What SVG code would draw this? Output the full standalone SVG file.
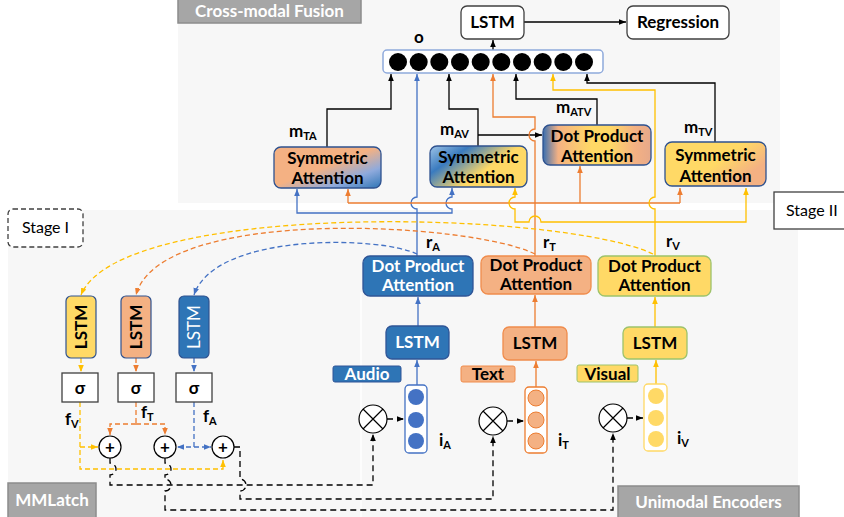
<svg xmlns="http://www.w3.org/2000/svg" width="844" height="517" viewBox="0 0 844 517">
<defs>
<style>
text{font-family:Lato,"Open Sans","Liberation Sans",sans-serif;}
.t{font-size:17px;font-weight:bold;text-anchor:middle;}
.w{fill:#fff;}
.c{fill:none;stroke-width:1.3;}
.k{stroke:#000;}
.bl{stroke:#4472c4;}
.or{stroke:#ed7d31;}
.ye{stroke:#ffc000;}
.d{stroke-dasharray:6 4;}
.dc{stroke-dasharray:5 3;}
.lab{font-size:17px;font-weight:bold;}
.sub{font-size:11px;}
.tag{fill:#a6a6a6;stroke:#8c8c8c;stroke-width:1.5;}
.tagt{font-size:17px;font-weight:bold;fill:#fff;text-anchor:middle;}
.wbox{fill:#fff;stroke:#404040;stroke-width:1.3;}
.grad{stroke:#2f528f;stroke-width:1.3;}
</style>
<marker id="ak" viewBox="0 0 10 10" refX="10" refY="5" markerWidth="7" markerHeight="7" markerUnits="userSpaceOnUse" orient="auto"><path d="M0,1 L10,5 L0,9z" fill="#000"/></marker>
<marker id="ab" viewBox="0 0 10 10" refX="10" refY="5" markerWidth="7" markerHeight="7" markerUnits="userSpaceOnUse" orient="auto"><path d="M0,1 L10,5 L0,9z" fill="#4472c4"/></marker>
<marker id="ao" viewBox="0 0 10 10" refX="10" refY="5" markerWidth="7" markerHeight="7" markerUnits="userSpaceOnUse" orient="auto"><path d="M0,1 L10,5 L0,9z" fill="#ed7d31"/></marker>
<marker id="ay" viewBox="0 0 10 10" refX="10" refY="5" markerWidth="7" markerHeight="7" markerUnits="userSpaceOnUse" orient="auto"><path d="M0,1 L10,5 L0,9z" fill="#ffc000"/></marker>
<linearGradient id="gTA" x1="0" y1="0" x2="1" y2="1">
<stop offset="0" stop-color="#f4b183"/><stop offset="0.48" stop-color="#f4b183"/><stop offset="0.75" stop-color="#8faadc"/><stop offset="1" stop-color="#2e75b6"/>
</linearGradient>
<linearGradient id="gAV" x1="0" y1="0" x2="1" y2="0.6">
<stop offset="0" stop-color="#9dc3e6"/><stop offset="0.3" stop-color="#3a7bbf"/><stop offset="0.68" stop-color="#ffd966"/><stop offset="1" stop-color="#ffd966"/>
</linearGradient>
<linearGradient id="gATV" x1="0" y1="0" x2="1" y2="0">
<stop offset="0" stop-color="#3a6fb0"/><stop offset="0.14" stop-color="#f4b183"/><stop offset="0.45" stop-color="#ffd966"/><stop offset="0.62" stop-color="#ffd966"/><stop offset="0.85" stop-color="#f4b183"/><stop offset="1" stop-color="#e6a98a"/>
</linearGradient>
<linearGradient id="gTV" x1="0" y1="0.2" x2="1" y2="0.8">
<stop offset="0" stop-color="#ffd966"/><stop offset="0.5" stop-color="#ffd966"/><stop offset="0.85" stop-color="#f4b183"/><stop offset="1" stop-color="#f4b183"/>
</linearGradient>
</defs>

<!-- panels -->
<rect width="844" height="517" fill="#fff"/>
<rect x="178" y="0" width="602" height="203" fill="#f7f7f7"/>
<rect x="8" y="210" width="790" height="307" fill="#f7f7f7"/>
<line x1="361" y1="292" x2="361" y2="517" stroke="#fff" stroke-width="1.5"/>

<g id="tag-fusion"><rect class="tag" x="178" y="-1" width="183" height="24"/><text class="tagt" x="269.5" y="17">Cross-modal Fusion</text></g>
<g id="tag-mmlatch"><rect class="tag" x="8" y="483" width="88" height="36"/><text class="tagt" x="52" y="506">MMLatch</text></g>
<g id="tag-encoders"><rect class="tag" x="618" y="486" width="181" height="33"/><text class="tagt" x="708.5" y="508">Unimodal Encoders</text></g>
<g id="stage1"><rect x="8" y="209" width="75" height="38" rx="5" fill="#fff" stroke="#404040" stroke-width="1.3" stroke-dasharray="5 3"/><text x="45.5" y="233" font-size="16" text-anchor="middle">Stage I</text></g>
<g id="stage2"><rect x="774" y="192" width="80" height="37" fill="#fff" stroke="#404040" stroke-width="1.3"/><text x="786" y="216" font-size="16">Stage II</text></g>

<!-- connectors -->
<g id="connectors">
<!-- fusion head -->
<path class="c k" d="M493,50 V40" marker-end="url(#ak)"/>
<path class="c k" d="M524,22 H626" marker-end="url(#ak)"/>
<path class="c k" d="M327,147 V109 H391 V74" marker-end="url(#ak)"/>
<path class="c k" d="M478,146 V109 H449 V74" marker-end="url(#ak)"/>
<path class="c k" d="M478,135 H542" marker-end="url(#ak)"/>
<path class="c k" d="M597,125 V99 H516 V74" marker-end="url(#ak)"/>
<path class="c k" d="M715,142 V83 H587 V74" marker-end="url(#ak)"/>
<!-- audio representation -->
<path class="c bl" d="M417,256 V209 A6,6 0 0 1 417,197 V74" marker-end="url(#ab)"/>
<path class="c bl" d="M417,213 H297 V189" marker-end="url(#ab)"/>
<path class="c bl" d="M417,213 H452 V209 A6,6 0 0 1 452,197 V188" marker-end="url(#ab)"/>
<!-- text representation -->
<path class="c or" d="M535,256 V141 A6,6 0 0 1 535,129 V117 H493 V74" marker-end="url(#ao)"/>
<path class="c or" d="M348,203 H680"/>
<path class="c or" d="M348,203 V189" marker-end="url(#ao)"/>
<path class="c or" d="M580,203 V166" marker-end="url(#ao)"/>
<path class="c or" d="M680,203 V188" marker-end="url(#ao)"/>
<!-- visual representation -->
<path class="c ye" d="M655,256 V209 A6,6 0 0 1 655,197 V90 H553 V74" marker-end="url(#ay)"/>
<path class="c ye" d="M655,222 H746 V188" marker-end="url(#ay)"/>
<path class="c ye" d="M655,222 H541 A6,6 0 0 0 529,222 H515 V209 A6,6 0 0 1 515,197 V188" marker-end="url(#ay)"/>
<!-- encoders -->
<path class="c bl" d="M417,385 V360" marker-end="url(#ab)"/>
<path class="c bl" d="M418,326 V297" marker-end="url(#ab)"/>
<path class="c or" d="M536,387 V361" marker-end="url(#ao)"/>
<path class="c or" d="M535,327 V295" marker-end="url(#ao)"/>
<path class="c ye" d="M656,384 V360" marker-end="url(#ay)"/>
<path class="c ye" d="M655,327 V297" marker-end="url(#ay)"/>
<!-- feedback to stage I -->
<path class="c ye dc" d="M653,254 C560,210 120,200 81,295" marker-end="url(#ay)"/>
<path class="c or dc" d="M535,254 C470,222 160,205 136,295" marker-end="url(#ao)"/>
<path class="c bl dc" d="M417,254 C380,236 215,232 194,295" marker-end="url(#ab)"/>
<path class="c ye dc" d="M81,358 V372" marker-end="url(#ay)"/>
<path class="c or dc" d="M136,358 V372" marker-end="url(#ao)"/>
<path class="c bl dc" d="M194,358 V372" marker-end="url(#ab)"/>
<!-- gates -->
<path class="c ye dc" d="M80,402 V469 H223 V460" marker-end="url(#ay)"/>
<path class="c ye dc" d="M80,447 H98" marker-end="url(#ay)"/>
<path class="c or dc" d="M136,402 V424"/>
<path class="c or dc" d="M136,424 H110 V435" marker-end="url(#ao)"/>
<path class="c or dc" d="M136,424 H165 V435" marker-end="url(#ao)"/>
<path class="c bl dc" d="M194,402 V447 H177" marker-end="url(#ab)"/>
<path class="c bl dc" d="M194,447 H211" marker-end="url(#ab)"/>
<!-- masks to inputs -->
<path class="c k d" d="M110,458 V463 A6,6 0 0 1 110,475 V485 H373 V434" marker-end="url(#ak)"/>
<path class="c k d" d="M165,458 V463 A6,6 0 0 1 165,475 V479 A6,6 0 0 1 165,491 V510 H613 V433" marker-end="url(#ak)"/>
<path class="c k d" d="M234,447 H240 V479 A6,6 0 0 1 240,491 V499 H493 V436" marker-end="url(#ak)"/>
<path class="c k d" d="M387,419 H404" marker-end="url(#ak)"/>
<path class="c k d" d="M507,421 H524" marker-end="url(#ak)"/>
<path class="c k d" d="M627,418 H643" marker-end="url(#ak)"/>
</g>

<!-- fusion nodes -->
<g id="lstm-fusion"><rect class="wbox" x="461" y="6" width="63" height="33" rx="6"/><text class="t" x="492.5" y="28">LSTM</text></g>
<g id="regression"><rect class="wbox" x="627" y="6" width="102" height="33" rx="6"/><text class="t" x="678" y="28">Regression</text></g>
<g id="vec-o">
<rect x="383" y="50" width="220" height="23" rx="4" fill="#fff" stroke="#8faadc" stroke-width="1.5"/>
<g fill="#000">
<circle cx="398" cy="62" r="9"/><circle cx="418.7" cy="62" r="9"/><circle cx="439.3" cy="62" r="9"/><circle cx="460" cy="62" r="9"/><circle cx="480.7" cy="62" r="9"/><circle cx="501.3" cy="62" r="9"/><circle cx="522" cy="62" r="9"/><circle cx="542.7" cy="62" r="9"/><circle cx="563.3" cy="62" r="9"/><circle cx="584" cy="62" r="9"/>
</g>
<text class="t" x="419" y="43">o</text>
</g>
<g id="sym-ta"><rect class="grad" x="274" y="147" width="107" height="41" rx="7" fill="url(#gTA)"/><text class="t" x="327.5" y="164">Symmetric</text><text class="t" x="327.5" y="184">Attention</text>
<text class="lab" x="289" y="137">m<tspan class="sub" dy="3">TA</tspan></text></g>
<g id="sym-av"><rect class="grad" x="430" y="146" width="97" height="41" rx="7" fill="url(#gAV)"/><text class="t" x="478.5" y="163">Symmetric</text><text class="t" x="478.5" y="183">Attention</text>
<text class="lab" x="440" y="135">m<tspan class="sub" dy="3">AV</tspan></text></g>
<g id="dot-atv"><rect class="grad" x="543" y="125" width="108" height="40" rx="7" fill="url(#gATV)"/><text class="t" x="597" y="142">Dot Product</text><text class="t" x="597" y="162">Attention</text>
<text class="lab" x="556" y="113">m<tspan class="sub" dy="3">ATV</tspan></text></g>
<g id="sym-tv"><rect class="grad" x="665" y="142" width="101" height="44" rx="7" fill="url(#gTV)"/><text class="t" x="715.5" y="161">Symmetric</text><text class="t" x="715.5" y="182">Attention</text>
<text class="lab" x="684" y="133">m<tspan class="sub" dy="3">TV</tspan></text></g>

<!-- unimodal encoders -->
<g id="dot-a"><rect x="363" y="256" width="110" height="40" rx="7" fill="#2e75b6" stroke="#2f5597" stroke-width="1.3"/><text class="t w" x="418" y="272">Dot Product</text><text class="t w" x="418" y="291">Attention</text>
<text class="lab" x="426" y="248">r<tspan class="sub" dy="3">A</tspan></text></g>
<g id="dot-t"><rect x="481" y="256" width="110" height="38" rx="7" fill="#f4b183" stroke="#f08c4c" stroke-width="1.3"/><text class="t" x="536" y="271">Dot Product</text><text class="t" x="536" y="290">Attention</text>
<text class="lab" x="543" y="248">r<tspan class="sub" dy="3">T</tspan></text></g>
<g id="dot-v"><rect x="598" y="256" width="113" height="40" rx="7" fill="#ffd966" stroke="#9dc36b" stroke-width="1.3"/><text class="t" x="654.5" y="272">Dot Product</text><text class="t" x="654.5" y="291">Attention</text>
<text class="lab" x="666" y="247">r<tspan class="sub" dy="3">V</tspan></text></g>
<g id="lstm-a"><rect x="386" y="326" width="63" height="33" rx="6" fill="#2e75b6" stroke="#2f5597" stroke-width="1.3"/><text class="t w" x="417.5" y="348">LSTM</text></g>
<g id="lstm-t"><rect x="503" y="327" width="64" height="33" rx="6" fill="#f4b183" stroke="#f08c4c" stroke-width="1.3"/><text class="t" x="535" y="349">LSTM</text></g>
<g id="lstm-v"><rect x="623" y="327" width="64" height="32" rx="6" fill="#ffd966" stroke="#9dc36b" stroke-width="1.3"/><text class="t" x="655" y="349">LSTM</text></g>
<g id="tag-audio"><rect x="333" y="366" width="68" height="16" rx="2" fill="#2e75b6" stroke="#2f5597"/><text class="t w" font-size="16" x="367" y="380">Audio</text></g>
<g id="tag-text"><rect x="461" y="366" width="54" height="16" rx="2" fill="#f4b183" stroke="#f08c4c"/><text class="t" font-size="16" x="488" y="380">Text</text></g>
<g id="tag-visual"><rect x="577" y="365" width="61" height="17" rx="2" fill="#ffd966" stroke="#9dc36b"/><text class="t" font-size="16" x="607.5" y="380">Visual</text></g>
<g id="vec-ia"><rect x="405" y="385" width="22" height="68" rx="4" fill="#fff" stroke="#4472c4" stroke-width="1.3"/>
<g fill="#4472c4"><circle cx="416" cy="397" r="8"/><circle cx="416" cy="420" r="8"/><circle cx="416" cy="441" r="8"/></g>
<text class="lab" x="439" y="446">i<tspan class="sub" dy="3">A</tspan></text></g>
<g id="vec-it"><rect x="525" y="387" width="22" height="66" rx="4" fill="#fff" stroke="#ed7d31" stroke-width="1.3"/>
<g fill="#f4b183" stroke="#ed7d31"><circle cx="536" cy="398" r="8"/><circle cx="536" cy="420" r="8"/><circle cx="536" cy="441" r="8"/></g>
<text class="lab" x="558" y="446">i<tspan class="sub" dy="3">T</tspan></text></g>
<g id="vec-iv"><rect x="644" y="384" width="23" height="67" rx="4" fill="#fff" stroke="#ffd966" stroke-width="1.3"/>
<g fill="#ffd966"><circle cx="656" cy="396" r="8"/><circle cx="656" cy="418" r="8"/><circle cx="656" cy="439" r="8"/></g>
<text class="lab" x="677" y="444">i<tspan class="sub" dy="3">V</tspan></text></g>
<g id="mul-a" fill="#fff" stroke="#000" stroke-width="1.2"><circle cx="373" cy="419" r="14"/><path d="M363,409 L383,429 M383,409 L363,429"/></g>
<g id="mul-t" fill="#fff" stroke="#000" stroke-width="1.2"><circle cx="493" cy="421" r="14"/><path d="M483,411 L503,431 M503,411 L483,431"/></g>
<g id="mul-v" fill="#fff" stroke="#000" stroke-width="1.2"><circle cx="613" cy="418" r="14"/><path d="M603,408 L623,428 M623,408 L603,428"/></g>

<!-- MMLatch stage I -->
<g id="lstm1-v"><rect x="66" y="296" width="30" height="62" rx="5" fill="#ffd966" stroke="#2f528f" stroke-width="1.2"/><text class="t" transform="translate(87,327) rotate(-90)">LSTM</text></g>
<g id="lstm1-t"><rect x="121" y="296" width="30" height="62" rx="5" fill="#f4b183" stroke="#2f528f" stroke-width="1.2"/><text class="t" transform="translate(142,327) rotate(-90)">LSTM</text></g>
<g id="lstm1-a"><rect x="179" y="296" width="30" height="62" rx="5" fill="#2e75b6" stroke="#2f528f" stroke-width="1.2"/><text class="w" font-size="17" text-anchor="middle" transform="translate(200,327) rotate(-90)">LSTM</text></g>
<g id="sig-v"><rect class="wbox" x="62" y="373" width="36" height="29"/><text class="t" font-size="18" x="80" y="394">σ</text></g>
<g id="sig-t"><rect class="wbox" x="118" y="373" width="36" height="29"/><text class="t" font-size="18" x="136" y="394">σ</text></g>
<g id="sig-a"><rect class="wbox" x="176" y="373" width="36" height="29"/><text class="t" font-size="18" x="194" y="394">σ</text></g>
<text class="lab" x="65" y="425">f<tspan class="sub" dy="3">V</tspan></text>
<text class="lab" x="141" y="418">f<tspan class="sub" dy="3">T</tspan></text>
<text class="lab" x="203" y="422">f<tspan class="sub" dy="3">A</tspan></text>
<g id="add-1"><circle cx="110" cy="447" r="11" fill="#fff" stroke="#000" stroke-width="1.2"/><text class="t" x="110" y="453">+</text></g>
<g id="add-2"><circle cx="165" cy="447" r="11" fill="#fff" stroke="#000" stroke-width="1.2"/><text class="t" x="165" y="453">+</text></g>
<g id="add-3"><circle cx="223" cy="447" r="11" fill="#fff" stroke="#000" stroke-width="1.2"/><text class="t" x="223" y="453">+</text></g>
</svg>
